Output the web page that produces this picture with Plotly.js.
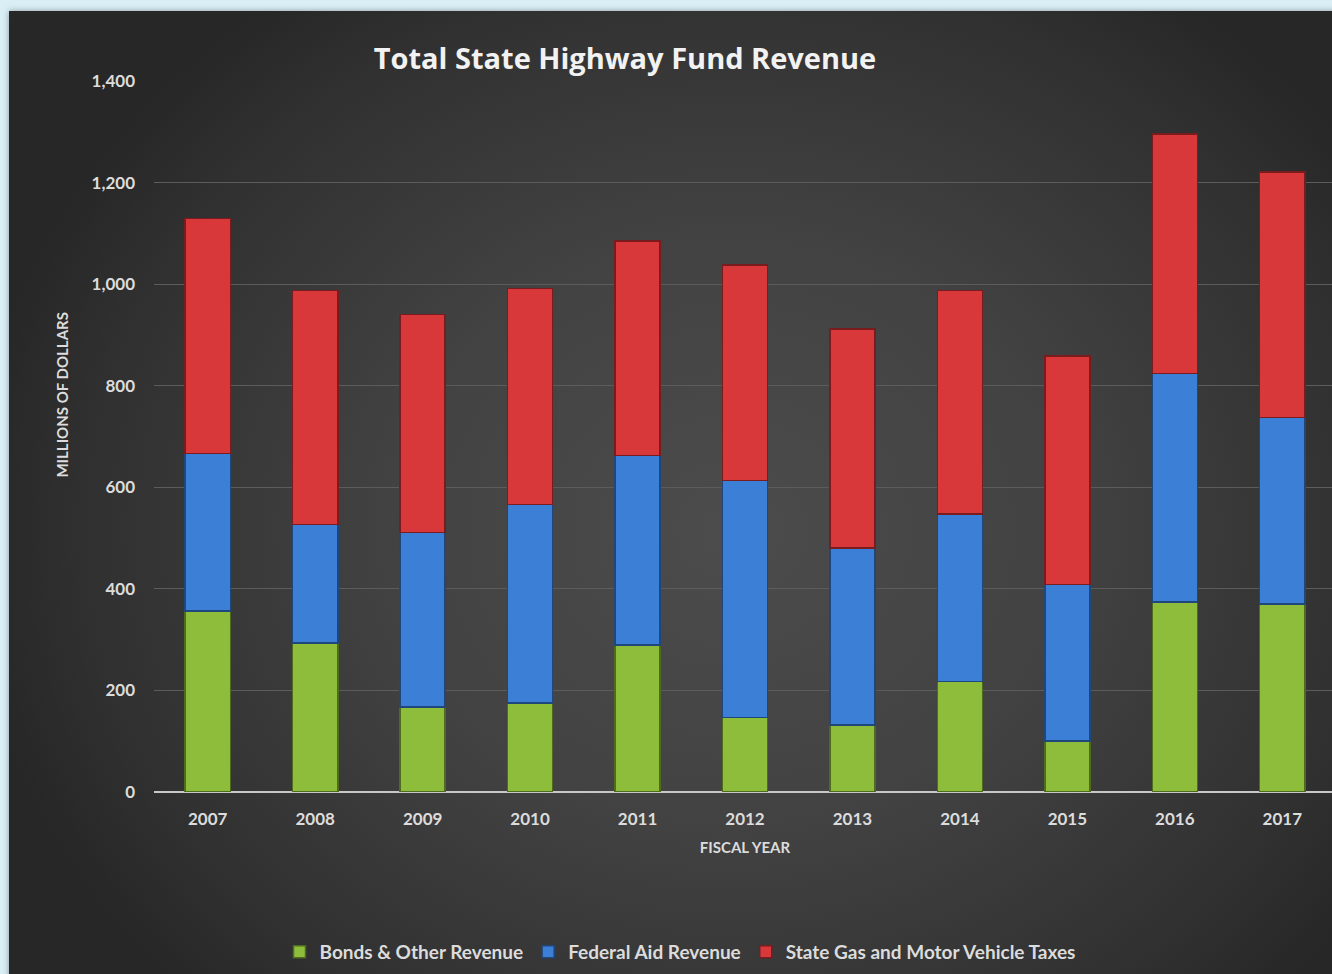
<!DOCTYPE html>
<html>
<head>
<meta charset="utf-8">
<script src="https://cdn.plot.ly/plotly-3.0.1.min.js"></script>
<style>
  html, body { margin:0; padding:0; width:1332px; height:974px; overflow:hidden; background:#d9eef5; }
  #panel { position:absolute; left:9px; top:11px; width:1340px; height:980px;
    background: radial-gradient(ellipse 760px 660px at 720px 520px, #4c4c4c 0%, #424242 45%, #303030 85%, #272727 100%);
    box-shadow: 0 0 6px rgba(0,0,0,0.35); }
  #chart { position:absolute; left:0; top:0; width:1340px; height:974px; }
</style>
</head>
<body>
<div id="panel"></div>
<div id="chart"></div>
<script>
const years = ['2007','2008','2009','2010','2011','2012','2013','2014','2015','2016','2017'];
const bondsOther = [356, 293, 167, 175, 289, 147, 132, 218, 100, 374, 370];
const federalAid = [311, 234, 344, 391, 374, 466, 348, 329, 309, 450, 367];
const stateGasMV = [462, 460, 429, 425, 422, 425, 432, 440, 450, 472, 484];

const tickVals = [0, 200, 400, 600, 800, 1000, 1200, 1400];
const tickText = ['0', '200', '400', '600', '800', '1,000', '1,200', '1,400'];

const FONT = 'Lato, "Open Sans", sans-serif';
const L = 154, PW = 1182;
const px = v => (v - L) / PW;

function trace(name, y, color, edge) {
  return { type:'bar', name:name, x:years, y:y,
    marker:{ color:color, line:{ color:edge, width:1.5 } },
    hovertemplate:'%{y}<extra>'+name+'</extra>' };
}

const data = [
  trace('Bonds & Other Revenue', bondsOther, '#8dbd3b', '#4f6b1e'),
  trace('Federal Aid Revenue', federalAid, '#3b80d6', '#1f477c'),
  trace('State Gas and Motor Vehicle Taxes', stateGasMV, '#d8383a', '#7a1c1e')
];

const layout = {
  width:1340, height:974,
  paper_bgcolor:'rgba(0,0,0,0)', plot_bgcolor:'rgba(0,0,0,0)',
  margin:{ l:L, r:4, t:81, b:181 },
  barmode:'stack', bargap:0.58,
  font:{ family:FONT, color:'#dcdcdc' },
  title:{ text:'Total State Highway Fund Revenue', x:px(625), xanchor:'center', xref:'paper',
    y:1-59/974, yanchor:'middle', yref:'container',
    font:{ family:'"Open Sans", sans-serif', size:29, color:'#f2f2f2', weight:'bold' } },
  xaxis:{ type:'category', showgrid:false, zeroline:false,
    showline:false, ticks:'', ticklabelstandoff:15,
    tickfont:{ family:FONT, size:17, color:'#dcdcdc', weight:'bold' },
    title:{ text:'FISCAL YEAR', standoff:14, font:{ family:FONT, size:15, color:'#dcdcdc', weight:'bold' } } },
  yaxis:{ range:[0,1400], tickvals:tickVals, ticktext:tickText,
    showgrid:true, gridcolor:'#5c5c5c', gridwidth:1.2,
    zeroline:true, zerolinecolor:'#c8c8c8', zerolinewidth:2,
    showline:false, ticks:'', ticklabelstandoff:18,
    tickfont:{ family:FONT, size:17, color:'#dcdcdc', weight:'bold' } },
  annotations:[{ text:'MILLIONS OF DOLLARS', textangle:-90, showarrow:false,
    xref:'paper', yref:'paper', x:px(62), y:(793-395)/712, xanchor:'center', yanchor:'middle',
    font:{ family:FONT, size:15, color:'#dcdcdc', weight:'bold' } }],
  legend:{ orientation:'h', x:px(680), xanchor:'center', y:-(952-793)/712, yanchor:'middle',
    font:{ family:FONT, size:19, color:'#dcdcdc', weight:'bold' },
    traceorder:'normal', itemwidth:30, bgcolor:'rgba(0,0,0,0)' },
  showlegend:true
};

Plotly.newPlot('chart', data, layout, { displayModeBar:false, staticPlot:true });
</script>
</body>
</html>
